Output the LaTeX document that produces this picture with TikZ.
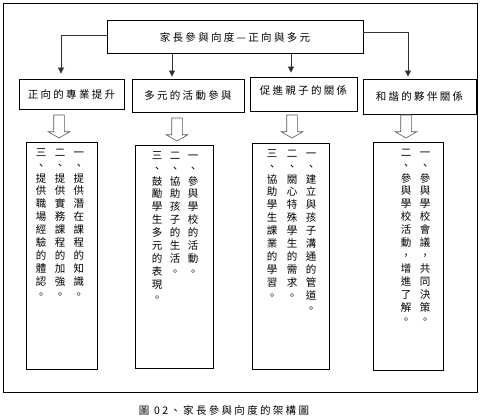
\documentclass[tikz,border=0pt]{standalone}
\usepackage{fontspec}
\usepackage{tikz}
\usetikzlibrary{arrows.meta,positioning,shapes.arrows}
\newfontfamily\cjk{Noto Sans CJK TC}
\newfontfamily\cjksp[LetterSpace=22]{Noto Sans CJK TC}
% one character per line, for the upright columns
\ExplSyntaxOn
\NewDocumentCommand\vcol{m}{\tl_map_inline:nn{#1}{\strut ##1\\}}
\ExplSyntaxOff

\begin{document}
\begin{tikzpicture}[
  x=1pt,y=-1pt,
  every node/.style={font=\cjksp\fontsize{10.5}{12}\selectfont},
  box/.style={draw,line width=0.8pt,inner sep=0pt,fill=white},
  cbox/.style={draw,line width=0.8pt,inner sep=0pt},
  con/.style={draw=black!80,line width=0.6pt,-{Triangle[length=6pt,width=6pt]}},
  blk/.style={single arrow,draw=gray!70!black,line width=0.6pt,fill=white,
              rotate=-90,minimum height=23pt,inner xsep=0pt,inner ysep=5pt,
              single arrow head extend=5.5pt,single arrow tip angle=120,
              outer sep=0pt},
  col/.style={font=\cjk\fontsize{10.5}{12.9}\selectfont,align=center,
              inner sep=0pt,anchor=north}]

  \useasboundingbox (0,0) rectangle (483,420);
  % --- outer frame
  \draw[line width=0.9pt] (3,3) rectangle (477,392);

  % --- top box
  \node[box,minimum width=256pt,minimum height=33pt] (title) at (235,37.25)
    {家長參與向度—正向與多元};

  % --- the four aspects
  \node[box,minimum width=105pt,minimum height=30pt] (pro) at (71.5,94)
    {正向的專業提升};
  \node[box,minimum width=112pt,minimum height=33pt] (act) at (188,95.5)
    {多元的活動參與};
  \node[box,minimum width=107pt,minimum height=34pt] (par) at (303.5,94)
    {\raisebox{8pt}{促進親子的關係}};
  \node[box,minimum width=113pt,minimum height=35pt] (ptn) at (419.5,96.5)
    {和諧的夥伴關係};

  % --- arrows from the top box (they sit left of the box centres)
  \coordinate (a1) at ([xshift=-10.5pt]pro.north);
  \coordinate (a2) at ([xshift=-16pt]act.north);
  \coordinate (a3) at ([xshift=-12.5pt]par.north);
  \coordinate (a4) at ([xshift=-11.5pt]ptn.north);
  \draw[con,shorten >=5pt] ([yshift=2pt]title.west) -| (a1);
  \draw[con,shorten >=2pt] (a2 |- title.south) -- (a2);
  \draw[con,shorten >=4pt] (a3 |- title.south) -- (a3);
  \draw[con,shorten >=2pt] ([yshift=5pt]title.east) -| (a4);

  % --- hollow arrows down to the lists
  \node[blk,anchor=tail] (ar1) at (59,115) {};
  \node[blk,anchor=tail] (ar2) at (177,118) {};
  \node[blk,anchor=tail] (ar3) at (292,115) {};
  \node[blk,anchor=tail] (ar4) at (406,115) {};

  % --- the lists, written in upright columns (right to left)
  \node[cbox,minimum width=71pt,minimum height=227pt] (proc) at (61.5,255.5) {};
  \node[col] (proc1) at (79,147) {\vcol{一、提供潛在課程的知識。}};
  \node[col] (proc2) at (60,147) {\vcol{二、提供實務課程的加強。}};
  \node[col] (proc3) at (41,147) {\vcol{三、提供職場經驗的體認。}};

  \node[cbox,minimum width=78pt,minimum height=223pt] (actc) at (174,256.5) {};
  \node[col] (actc1) at (193,150) {\vcol{一、參與學校的活動。}};
  \node[col] (actc2) at (175,150) {\vcol{二、協助孩子的生活。}};
  \node[col] (actc3) at (157,150) {\vcol{三、鼓勵學生多元的表現。}};

  \node[cbox,minimum width=77pt,minimum height=226pt] (parc) at (290.5,256) {};
  \node[col] (parc1) at (311,148) {\vcol{一、建立與孩子溝通的管道。}};
  \node[col] (parc2) at (292,148) {\vcol{二、關心特殊學生的需求。}};
  \node[col] (parc3) at (272,148) {\vcol{三、協助學生課業的學習。}};

  \node[cbox,minimum width=70pt,minimum height=228pt] (ptnc) at (408,256) {};
  \node[col] (ptnc1) at (425,147) {\vcol{一、參與學校會議，共同決策。}};
  \node[col] (ptnc2) at (406,147) {\vcol{二、參與學校活動，增進了解。}};

  % --- caption
  \node (cap) at (224,410) {圖 02、家長參與向度的架構圖};
\end{tikzpicture}
\end{document}
